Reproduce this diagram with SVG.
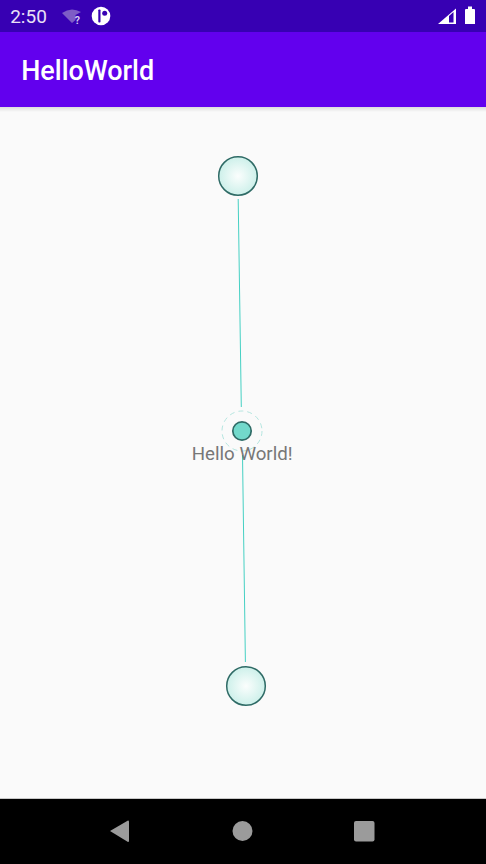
<svg xmlns="http://www.w3.org/2000/svg" width="486" height="864" viewBox="0 0 486 864">
<defs>
<radialGradient id="g"><stop offset="0" stop-color="#fbfefd"/><stop offset="1" stop-color="#cdf0ea"/></radialGradient>
<linearGradient id="sh" x1="0" y1="0" x2="0" y2="1"><stop offset="0" stop-color="#dcdcdc"/><stop offset="1" stop-color="#fafafa"/></linearGradient>
</defs>
<style>
text{font-family:Roboto,"Liberation Sans",sans-serif}
.c{fill:url(#g);stroke:#2f6b66;stroke-width:1.5}
.l{stroke:#45d0c3;stroke-width:1;fill:none}
.n{fill:#9b9b9b}
</style>
<rect width="486" height="864" fill="#fafafa"/>
<g id="status-bar">
<rect width="486" height="32" fill="#3700b3"/>
<text x="10.200" y="23" font-size="19" fill="#e9e0f6">2:50</text>
<path d="M62 13Q71 6.500 81 12L75.500 15V20L72 23Z" fill="#7e5cc6"/>
<text x="74.700" y="23.500" font-size="10.500" font-weight="700" fill="#d9cdf0">?</text>
<circle cx="101" cy="16" r="9.300" fill="#fff"/>
<rect x="98.300" y="9.500" width="2.200" height="13" rx="0.800" fill="#3700b3"/>
<circle cx="104.700" cy="13.300" r="2.500" fill="#3700b3"/>
<path d="M438 24L456 8.500V24Z" fill="#fff"/>
<path d="M449 16V22.500H453.500V12Z" fill="#3700b3"/>
<path d="M465 10a1 1 0 0 1 1-1h2V6.500h4V9h2a1 1 0 0 1 1 1V24H465Z" fill="#fff"/>
</g>
<g id="app-bar">
<rect y="32" width="486" height="75" fill="#6200ee"/>
<rect y="107" width="486" height="5" fill="url(#sh)"/>
<text x="21.200" y="80" font-size="27" font-weight="500" fill="#fff">HelloWorld</text>
</g>
<g id="connectors">
<line class="l" x1="238.200" y1="199" x2="241.300" y2="407"/>
<line class="l" x1="242.500" y1="455" x2="245.400" y2="662"/>
</g>
<g id="node-top"><circle class="c" cx="238" cy="176" r="19.300"/></g>
<g id="node-center">
<circle cx="242" cy="431" r="20" fill="none" stroke="#b5e6e0" stroke-width="1" stroke-dasharray="5 4"/>
<circle cx="242" cy="431" r="9.200" fill="#72d9cb" stroke="#2f6b66" stroke-width="1.700"/>
</g>
<g id="node-bottom"><circle class="c" cx="246" cy="686" r="19.300"/></g>
<g id="label"><text x="242.200" y="460" font-size="18.700" text-anchor="middle" fill="#777">Hello World!</text></g>
<g id="nav-bar">
<rect y="798" width="486" height="1" fill="#c8c8c8"/>
<rect y="799" width="486" height="65" fill="#000"/>
<path class="n" d="M110 831L128 820.500a1 1 0 0 1 1 1V841a1 1 0 0 1-1 1Z"/>
<circle class="n" cx="242.500" cy="831" r="10"/>
<rect class="n" x="354" y="821" width="20.500" height="20.500" rx="2"/>
</g>
</svg>
